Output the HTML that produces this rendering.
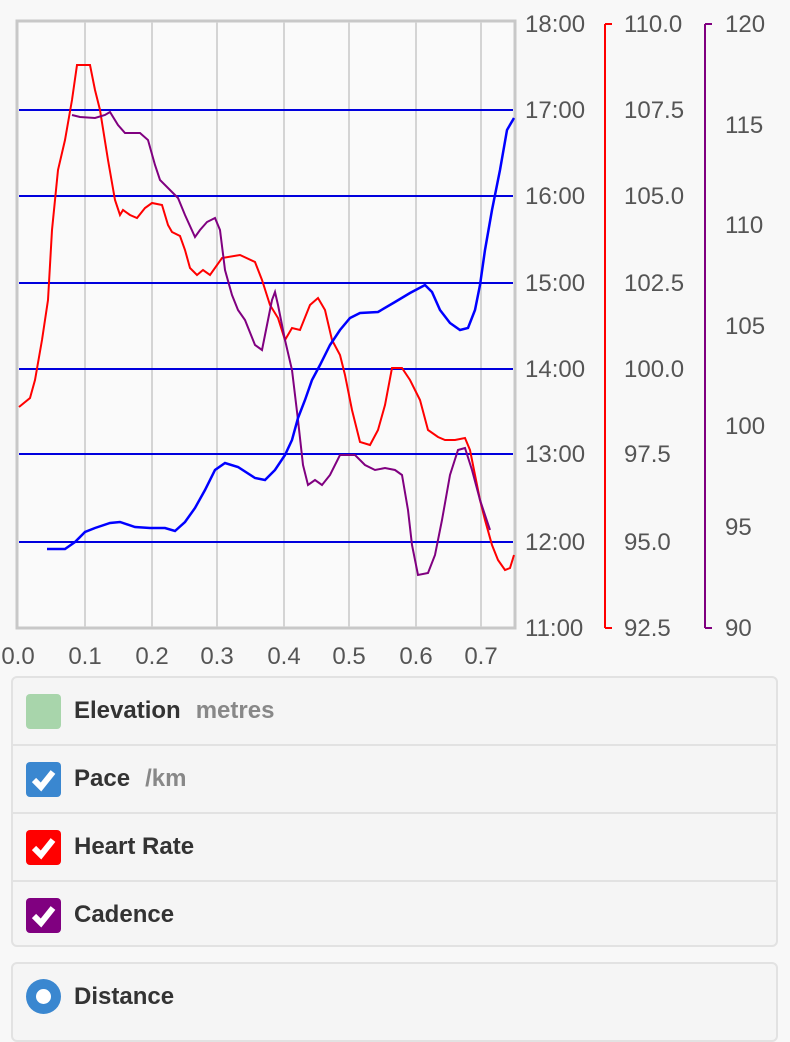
<!DOCTYPE html>
<html><head><meta charset="utf-8"><style>
body{margin:0;width:790px;height:1024px;background:#f8f8f8;overflow:hidden;font-family:"Liberation Sans",Arial,sans-serif;position:relative}
.panel{position:absolute;left:11px;width:767px;background:#f5f5f5;border:2px solid #e2e2e2;border-radius:6px;box-sizing:border-box}
.row{height:68px;border-bottom:2px solid #e2e2e2;position:relative;box-sizing:border-box}
.row:last-child{border-bottom:none}
.box{position:absolute;left:13px;top:16px;width:35px;height:35px;border-radius:4px}
.lbl{position:absolute;left:61px;top:19px;font-size:24px;font-weight:bold;color:#333}
.unit{color:#888;margin-left:15px}
</style></head><body>
<svg width="790" height="670" style="position:absolute;left:0;top:0" font-family="Liberation Sans, Arial, sans-serif">
<rect x="17" y="21" width="498" height="607" fill="#fafafa" stroke="#c8c8c8" stroke-width="3"/>
<g stroke="#d4d4d4" stroke-width="2">
<line x1="85" y1="22" x2="85" y2="627"/><line x1="152" y1="22" x2="152" y2="627"/><line x1="217" y1="22" x2="217" y2="627"/><line x1="284" y1="22" x2="284" y2="627"/><line x1="349" y1="22" x2="349" y2="627"/><line x1="416" y1="22" x2="416" y2="627"/><line x1="481" y1="22" x2="481" y2="627"/>
</g>
<g stroke="#0000dd" stroke-width="2">
<line x1="19" y1="110" x2="513" y2="110"/><line x1="19" y1="196" x2="513" y2="196"/><line x1="19" y1="283" x2="513" y2="283"/><line x1="19" y1="369" x2="513" y2="369"/><line x1="19" y1="454" x2="513" y2="454"/><line x1="19" y1="542" x2="513" y2="542"/>
</g>
<polyline fill="none" stroke="#ff0000" stroke-width="2" points="19,407 30,398 35,380 42,340 48,300 52,230 58,170 65,140 72,100 77,65 90,65 95,90 100,110 108,160 115,200 120,215 123,210 130,215 137,218 145,208 152,203 162,205 168,225 172,232 180,236 185,250 190,268 197,275 203,270 210,275 222,258 240,255 255,262 262,280 270,305 278,318 285,340 292,328 300,330 310,305 318,298 325,310 332,340 340,355 345,375 352,410 360,442 370,445 378,430 385,405 392,368 402,368 410,380 420,400 428,430 438,437 445,440 455,440 465,438 470,450 475,475 480,500 485,520 492,545 498,560 505,570 510,568 514,555"/>
<polyline fill="none" stroke="#800080" stroke-width="2" points="72,115 80,117 95,118 105,115 110,112 118,125 125,133 140,133 148,140 155,165 160,180 170,190 178,198 185,215 195,237 200,230 207,222 215,218 220,230 225,270 232,295 238,310 245,320 255,345 262,350 268,320 272,300 275,292 278,305 285,340 292,370 298,420 303,465 308,485 315,480 322,485 330,475 340,455 355,455 365,465 375,470 385,468 395,470 402,475 408,510 412,545 418,575 428,573 435,555 442,520 450,475 458,450 465,448 472,470 480,500 490,530"/>
<polyline fill="none" stroke="#0000ff" stroke-width="2.5" points="47,549 65,549 75,542 85,532 95,528 110,523 120,522 135,527 150,528 165,528 175,531 185,522 195,508 205,490 215,470 225,463 238,467 255,478 265,480 275,470 285,455 292,440 298,418 305,400 312,380 320,365 330,345 340,330 350,318 360,313 378,312 395,302 410,293 425,285 432,292 440,310 450,323 460,330 468,328 475,310 480,285 485,250 492,210 500,170 507,130 514,118"/>
<line x1="605" y1="24" x2="605" y2="628" stroke="#ff0000" stroke-width="2"/>
<line x1="705" y1="24" x2="705" y2="628" stroke="#800080" stroke-width="2"/>
<g font-size="24" fill="#555">
<text x="525" y="32">18:00</text><text x="525" y="118">17:00</text><text x="525" y="204">16:00</text><text x="525" y="291">15:00</text><text x="525" y="377">14:00</text><text x="525" y="462">13:00</text><text x="525" y="550">12:00</text><text x="525" y="636">11:00</text>
<text x="624" y="32">110.0</text><text x="624" y="118">107.5</text><text x="624" y="204">105.0</text><text x="624" y="291">102.5</text><text x="624" y="377">100.0</text><text x="624" y="462">97.5</text><text x="624" y="550">95.0</text><text x="624" y="636">92.5</text>
<text x="725" y="32">120</text><text x="725" y="133">115</text><text x="725" y="233">110</text><text x="725" y="334">105</text><text x="725" y="434">100</text><text x="725" y="535">95</text><text x="725" y="636">90</text>
<g text-anchor="middle"><text x="18" y="664">0.0</text><text x="85" y="664">0.1</text><text x="152" y="664">0.2</text><text x="217" y="664">0.3</text><text x="284" y="664">0.4</text><text x="349" y="664">0.5</text><text x="416" y="664">0.6</text><text x="481" y="664">0.7</text></g>
</g>
<g stroke-width="2"><line x1="605" y1="24" x2="612" y2="24" stroke="#f00"/><line x1="705" y1="24" x2="712" y2="24" stroke="#800080"/><line x1="605" y1="628" x2="612" y2="628" stroke="#f00"/><line x1="705" y1="628" x2="712" y2="628" stroke="#800080"/></g>
</svg>
<div class="panel" style="top:676px;height:271px">
<div class="row"><div class="box" style="background:#a8d5ab"></div><div class="lbl">Elevation<span class="unit">metres</span></div></div>
<div class="row"><div class="box" style="background:#3a87d0"><svg width="35" height="35"><polyline points="8,18 15,25 27,10" fill="none" stroke="#fff" stroke-width="6"/></svg></div><div class="lbl">Pace<span class="unit">/km</span></div></div>
<div class="row"><div class="box" style="background:#ff0000"><svg width="35" height="35"><polyline points="8,18 15,25 27,10" fill="none" stroke="#fff" stroke-width="6"/></svg></div><div class="lbl">Heart Rate</div></div>
<div class="row"><div class="box" style="background:#800080"><svg width="35" height="35"><polyline points="8,18 15,25 27,10" fill="none" stroke="#fff" stroke-width="6"/></svg></div><div class="lbl">Cadence</div></div>
</div>
<div class="panel" style="top:962px;height:80px">
<div class="row" style="border:none"><div class="box" style="background:#3a87d0;border-radius:50%;top:15px"><div style="position:absolute;left:10px;top:10px;width:15px;height:15px;border-radius:50%;background:#fff"></div></div><div class="lbl">Distance</div></div>
</div>
</body></html>
